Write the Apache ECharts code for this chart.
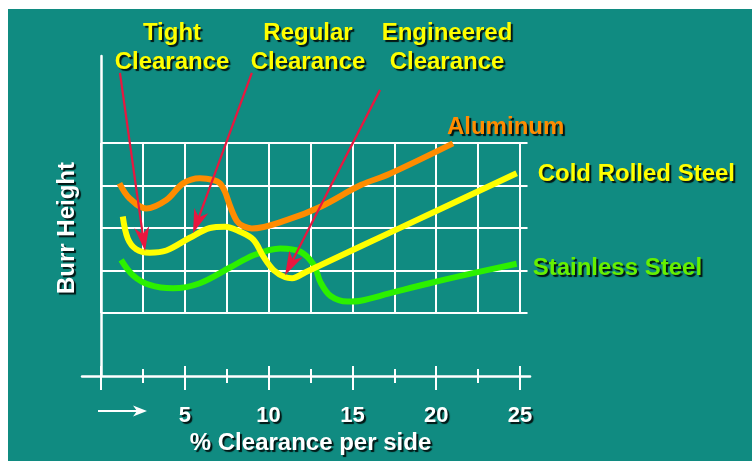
<!DOCTYPE html>
<html>
<head>
<meta charset="utf-8">
<script src="https://cdn.jsdelivr.net/npm/echarts@6/dist/echarts.min.js"></script>
<style>
  html, body { margin: 0; padding: 0; background: #ffffff; }
  #bg { position: absolute; left: 8px; top: 9px; width: 744px; height: 452px; background: #108b81; }
  #chart { position: absolute; left: 0; top: 0; width: 752px; height: 462px; }
</style>
</head>
<body>
<div id="bg"></div>
<div id="chart"></div>
<script>
// ---------- data (x = % clearance per side, y = burr height in grid units) ----------
const seriesNames = ['Stainless Steel', 'Cold Rolled Steel', 'Aluminum'];

const stainlessX = [1.2, 1.9, 2.9, 4.3, 5.9, 7.7, 9.1, 10.7, 11.9, 12.7, 13.1, 13.7, 14.7, 15.5, 17.2, 19.6, 22.0, 24.8];
const stainlessY = [2.25, 1.89, 1.66, 1.58, 1.70, 2.07, 2.36, 2.52, 2.44, 2.13, 1.72, 1.40, 1.27, 1.29, 1.46, 1.70, 1.92, 2.16];

const coldRolledX = [1.3, 1.6, 2.1, 2.9, 3.9, 5.3, 6.5, 7.4, 8.3, 9.1, 9.7, 10.3, 11.0, 11.4, 12.2, 15.5, 20.0, 24.8];
const coldRolledY = [3.27, 2.75, 2.50, 2.42, 2.47, 2.77, 3.00, 3.03, 2.91, 2.72, 2.32, 2.01, 1.84, 1.82, 1.96, 2.57, 3.40, 4.29];

const aluminumX = [1.1, 1.7, 2.7, 3.9, 4.9, 5.9, 6.7, 7.1, 7.4, 7.7, 8.1, 8.5, 9.0, 11.1, 13.1, 15.5, 17.2, 21.0];
const aluminumY = [4.05, 3.70, 3.46, 3.66, 4.05, 4.17, 4.13, 4.05, 3.85, 3.52, 3.17, 3.04, 2.99, 3.19, 3.50, 4.01, 4.27, 4.99];

const clearanceNames = ['Tight\nClearance', 'Regular\nClearance', 'Engineered\nClearance'];
const arrowFromX = [1.13, 9.0, 16.65];
const arrowFromY = [6.65, 6.65, 6.25];
const arrowToX = [2.63, 5.49, 10.98];
const arrowToY = [2.46, 2.88, 1.89];

const xTickStep = 5;
const gridStep = 2.5;

// ---------- layout ----------
const W = 752, H = 462;
const PX0 = 101, PXS = 16.76, PY1 = 313, PYS = 42.5;
const gx = v => PX0 + v * PXS;
const gy = v => PY1 - (v - 1) * PYS;
const XMIN = -1.13, XMAX = 25.6, YMIN = -0.48, YMAX = 7.05;

const WHITE = '#ffffff';
const ORANGE = '#ff8c00';
const YELLOW = '#ffff00';
const GREEN = '#2cf000';
const GREEN_TXT = '#66f000';
const RED = '#e8173f';
const FONT = '"Liberation Sans", Arial, sans-serif';
const SHADOW = { textShadowColor: 'rgba(0,0,0,0.85)', textShadowOffsetX: 2, textShadowOffsetY: 2, textShadowBlur: 1 };

const zip = (xs, ys) => xs.map((x, i) => [x, ys[i]]);

function gridRect(x0, x1, y0, y1) {
  return { left: gx(x0), right: W - gx(x1), top: gy(y1), bottom: H - gy(y0), outerBoundsMode: 'none', containLabel: false };
}

const hidden = { show: false };

const chart = echarts.init(document.getElementById('chart'), null, { renderer: 'canvas' });

const option = {
  backgroundColor: 'transparent',
  animation: false,
  grid: [
    gridRect(XMIN, XMAX, YMIN, YMAX), // 0: axis lines + data
    gridRect(0, 25, YMIN, YMAX),      // 1: ticks down + labels
    gridRect(0, 25, YMIN, YMAX),      // 2: ticks up
    gridRect(0, 25, 1, 5),            // 3: vertical grid lines
    gridRect(0, 25.45, 1, 5)          // 4: horizontal grid lines
  ],
  xAxis: [
    { gridIndex: 0, type: 'value', min: XMIN, max: XMAX,
      axisLine: { show: true, onZero: false, lineStyle: { color: WHITE, width: 2.5 } },
      axisTick: hidden, axisLabel: hidden, splitLine: hidden },
    { gridIndex: 1, type: 'value', min: 0, max: 25, interval: xTickStep,
      axisLine: { show: false },
      axisTick: { show: true, length: 14, lineStyle: { color: WHITE, width: 2 } },
      minorTick: { show: true, splitNumber: 2, length: 7, lineStyle: { color: WHITE, width: 2 } },
      axisLabel: { show: true, margin: 29, color: WHITE, fontSize: 22, fontWeight: 'bold', fontFamily: FONT,
        formatter: v => (v === 0 ? '' : String(v)), ...SHADOW },
      splitLine: hidden,
      name: '% Clearance per side', nameLocation: 'middle', nameGap: 55,
      nameTextStyle: { color: WHITE, fontSize: 24, fontWeight: 'bold', fontFamily: FONT, ...SHADOW } },
    { gridIndex: 2, type: 'value', min: 0, max: 25, interval: xTickStep,
      axisLine: { show: false },
      axisTick: { show: true, inside: true, length: 10, lineStyle: { color: WHITE, width: 2 } },
      minorTick: { show: true, splitNumber: 2, length: 7, lineStyle: { color: WHITE, width: 2 } },
      axisLabel: hidden, splitLine: hidden },
    { gridIndex: 3, type: 'value', min: 0, max: 25, interval: gridStep,
      axisLine: { show: false }, axisTick: hidden, axisLabel: hidden,
      splitLine: { show: true, lineStyle: { color: WHITE, width: 2 } } },
    { gridIndex: 4, type: 'value', min: 0, max: 25.45, show: false }
  ],
  yAxis: [
    { gridIndex: 0, type: 'value', min: YMIN, max: YMAX,
      axisLine: { show: true, onZero: true, lineStyle: { color: WHITE, width: 2.5 } },
      axisTick: hidden, axisLabel: hidden, splitLine: hidden },
    { gridIndex: 1, type: 'value', min: 0, max: 1, show: false },
    { gridIndex: 2, type: 'value', min: 0, max: 1, show: false },
    { gridIndex: 3, type: 'value', min: 0, max: 1, show: false },
    { gridIndex: 4, type: 'value', min: 1, max: 5, interval: 1,
      axisLine: { show: false, onZero: false }, axisTick: hidden, axisLabel: hidden,
      splitLine: { show: true, lineStyle: { color: WHITE, width: 2 } },
      name: 'Burr Height', nameLocation: 'middle', nameRotate: 90, nameGap: 22,
      nameTextStyle: { color: WHITE, fontSize: 24, fontWeight: 'bold', fontFamily: FONT, ...SHADOW } }
  ],
  series: [
    { name: seriesNames[0], type: 'line', xAxisIndex: 0, yAxisIndex: 0, data: zip(stainlessX, stainlessY),
      smooth: 0.35, showSymbol: false, symbol: 'none', clip: false, z: 3,
      lineStyle: { color: GREEN, width: 6 },
      endLabel: { show: true, formatter: '{a}', distance: 0, offset: [16, 5], color: GREEN_TXT,
        fontSize: 24, fontWeight: 'bold', fontFamily: FONT, ...SHADOW } },
    { name: seriesNames[1], type: 'line', xAxisIndex: 0, yAxisIndex: 0, data: zip(coldRolledX, coldRolledY),
      smooth: 0.35, showSymbol: false, symbol: 'none', clip: false, z: 4,
      lineStyle: { color: YELLOW, width: 6 },
      endLabel: { show: true, formatter: '{a}', distance: 0, offset: [21, 1], color: YELLOW,
        fontSize: 24, fontWeight: 'bold', fontFamily: FONT, ...SHADOW } },
    { name: seriesNames[2], type: 'line', xAxisIndex: 0, yAxisIndex: 0, data: zip(aluminumX, aluminumY),
      smooth: 0.35, showSymbol: false, symbol: 'none', clip: false, z: 5,
      lineStyle: { color: ORANGE, width: 6 },
      endLabel: { show: true, formatter: '{a}', distance: 0, offset: [-6, -16], color: ORANGE,
        fontSize: 24, fontWeight: 'bold', fontFamily: FONT, ...SHADOW } },
    { name: 'arrows', type: 'custom', xAxisIndex: 0, yAxisIndex: 0, z: 10, clip: false,
      data: arrowFromX.map((x, i) => [x, arrowFromY[i], arrowToX[i], arrowToY[i]]),
      encode: { x: [0, 2], y: [1, 3] },
      renderItem: function (params, api) {
        const p0 = api.coord([api.value(0), api.value(1)]);
        const p1 = api.coord([api.value(2), api.value(3)]);
        const dx = p1[0] - p0[0], dy = p1[1] - p0[1];
        const len = Math.sqrt(dx * dx + dy * dy);
        const ux = dx / len, uy = dy / len;
        const nx = -uy, ny = ux;
        const L = 24, Wd = 7.5, N = 17;
        const bl = [p1[0] - L * ux + Wd * nx, p1[1] - L * uy + Wd * ny];
        const br = [p1[0] - L * ux - Wd * nx, p1[1] - L * uy - Wd * ny];
        const nt = [p1[0] - N * ux, p1[1] - N * uy];
        return {
          type: 'group',
          children: [
            { type: 'line', shape: { x1: p0[0], y1: p0[1], x2: nt[0], y2: nt[1] },
              style: { stroke: RED, lineWidth: 2.2 } },
            { type: 'polygon', shape: { points: [p1, bl, nt, br] }, style: { fill: RED } }
          ]
        };
      } }
  ],
  graphic: [
    { type: 'text', x: 172, y: 47.5, z: 20, style: Object.assign({ text: clearanceNames[0], fill: YELLOW,
        font: 'bold 24px ' + FONT, align: 'center', verticalAlign: 'middle', lineHeight: 29 }, SHADOW) },
    { type: 'text', x: 308, y: 47.5, z: 20, style: Object.assign({ text: clearanceNames[1], fill: YELLOW,
        font: 'bold 24px ' + FONT, align: 'center', verticalAlign: 'middle', lineHeight: 29 }, SHADOW) },
    { type: 'text', x: 447, y: 47.5, z: 20, style: Object.assign({ text: clearanceNames[2], fill: YELLOW,
        font: 'bold 24px ' + FONT, align: 'center', verticalAlign: 'middle', lineHeight: 29 }, SHADOW) },
    { type: 'group', z: 20, children: [
        { type: 'line', shape: { x1: 98, y1: 411, x2: 140, y2: 411 }, style: { stroke: WHITE, lineWidth: 2 } },
        { type: 'polygon', shape: { points: [[147, 411], [133, 405.5], [137, 411], [133, 416.5]] }, style: { fill: WHITE } }
    ] }
  ]
};

chart.setOption(option);
</script>
</body>
</html>
